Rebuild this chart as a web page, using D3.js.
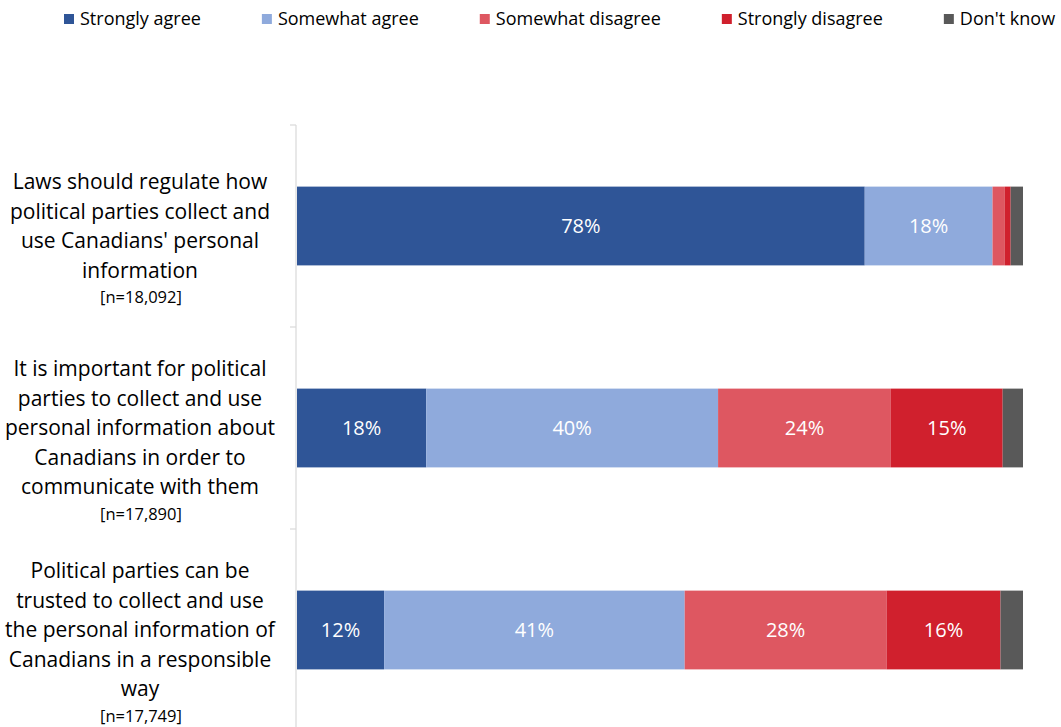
<!DOCTYPE html>
<html>
<head>
<meta charset="utf-8">
<script src="https://cdn.jsdelivr.net/npm/d3@7"></script>
<style>
  body { margin: 0; background: #fff; }
  svg text { font-family: "Open Sans", sans-serif; }
</style>
</head>
<body>
<div id="chart"></div>
<script>
// categories (label lines + sample size)
const questions = [
    ["Laws should regulate how", "political parties collect and", "use Canadians' personal", "information"],
    ["It is important for political", "parties to collect and use", "personal information about", "Canadians in order to", "communicate with them"],
    ["Political parties can be", "trusted to collect and use", "the personal information of", "Canadians in a responsible", "way"]
];
const sampleSizes = ["[n=18,092]", "[n=17,890]", "[n=17,749]"];

// response series
const responses = ["Strongly agree", "Somewhat agree", "Somewhat disagree", "Strongly disagree", "Don't know"];
const colours = ["#2f5597", "#8faadc", "#de5761", "#d0202d", "#595959"];

// shares per question, in response order (percent)
const stronglyAgree    = [78.2, 17.8, 12.0];
const somewhatAgree    = [17.6, 40.2, 41.4];
const somewhatDisagree = [1.7, 23.8, 27.8];
const stronglyDisagree = [0.8, 15.4, 15.7];
const dontKnow         = [1.7, 2.8, 3.1];

const series = [stronglyAgree, somewhatAgree, somewhatDisagree, stronglyDisagree, dontKnow];

const width = 1061, height = 727;
const margin = {left: 296, right: 38, top: 125, bottom: -4};

const svg = d3.select("#chart").append("svg")
    .attr("width", width)
    .attr("height", height);

// build rows
let rows = questions.map((q, i) => {
    let row = {id: i};
    responses.forEach((r, j) => row[r] = series[j][i]);
    return row;
});

let stacked = d3.stack().keys(responses)(rows);

let x = d3.scaleLinear()
    .domain([0, 100])
    .range([margin.left + 1, width - margin.right]);

let y = d3.scaleBand()
    .domain(rows.map(d => d.id))
    .range([margin.top, height - margin.bottom])
    .paddingInner(0.61)
    .paddingOuter(0.305);

// axis line and ticks
let step = (height - margin.bottom - margin.top) / 3;
let bandEdges = [0, 1, 2].map(i => margin.top + i * step);
svg.append("line")
    .attr("x1", margin.left).attr("x2", margin.left)
    .attr("y1", margin.top).attr("y2", height)
    .attr("stroke", "#d9d9d9").attr("stroke-width", 1.2);
svg.selectAll(".tick")
    .data(bandEdges)
    .enter().append("line")
    .attr("x1", margin.left - 6).attr("x2", margin.left)
    .attr("y1", d => d).attr("y2", d => d)
    .attr("stroke", "#d9d9d9").attr("stroke-width", 1.2);

// bars
let layer = svg.selectAll(".layer")
    .data(stacked)
    .enter().append("g")
    .attr("class", "layer")
    .attr("fill", (d, i) => colours[i]);

layer.selectAll("rect")
    .data(d => d)
    .enter().append("rect")
    .attr("x", d => x(d[0]))
    .attr("y", d => y(d.data.id))
    .attr("width", d => x(d[1]) - x(d[0]))
    .attr("height", y.bandwidth());

layer.selectAll("text")
    .data(d => d.filter(s => s[1] - s[0] >= 5))
    .enter().append("text")
    .attr("x", d => (x(d[0]) + x(d[1])) / 2)
    .attr("y", d => y(d.data.id) + y.bandwidth() / 2)
    .attr("dy", "0.35em")
    .attr("text-anchor", "middle")
    .attr("fill", "#fff")
    .style("font-size", "20px")
    .text(d => Math.round(d[1] - d[0]) + "%");

// category labels
let lineH = 29.5;
questions.forEach((lines, i) => {
    let cy = y(i) + y.bandwidth() / 2;
    let top = cy - (lines.length - 1) * lineH / 2;
    let t = svg.append("text")
        .attr("text-anchor", "middle")
        .attr("fill", "#000")
        .style("font-size", "21px");
    lines.forEach((l, k) => {
        t.append("tspan")
            .attr("x", 140)
            .attr("y", top + k * lineH)
            .attr("dy", "0.35em")
            .text(l);
    });
    svg.append("text")
        .attr("x", 141)
        .attr("y", top + (lines.length - 1) * lineH + 27)
        .attr("dy", "0.35em")
        .attr("text-anchor", "middle")
        .attr("fill", "#000")
        .style("font-size", "16.5px")
        .text(sampleSizes[i]);
});

// legend
let legend = svg.append("g").attr("class", "legend");
let lx = 64;
responses.forEach((r, i) => {
    legend.append("rect")
        .attr("x", lx).attr("y", 14)
        .attr("width", 10).attr("height", 10)
        .attr("fill", colours[i]);
    let txt = legend.append("text")
        .attr("x", lx + 16).attr("y", 19)
        .attr("dy", "0.35em")
        .attr("fill", "#000")
        .style("font-size", "18px")
        .text(r);
    lx += 16 + txt.node().getComputedTextLength() + 61;
});
</script>
</body>
</html>
